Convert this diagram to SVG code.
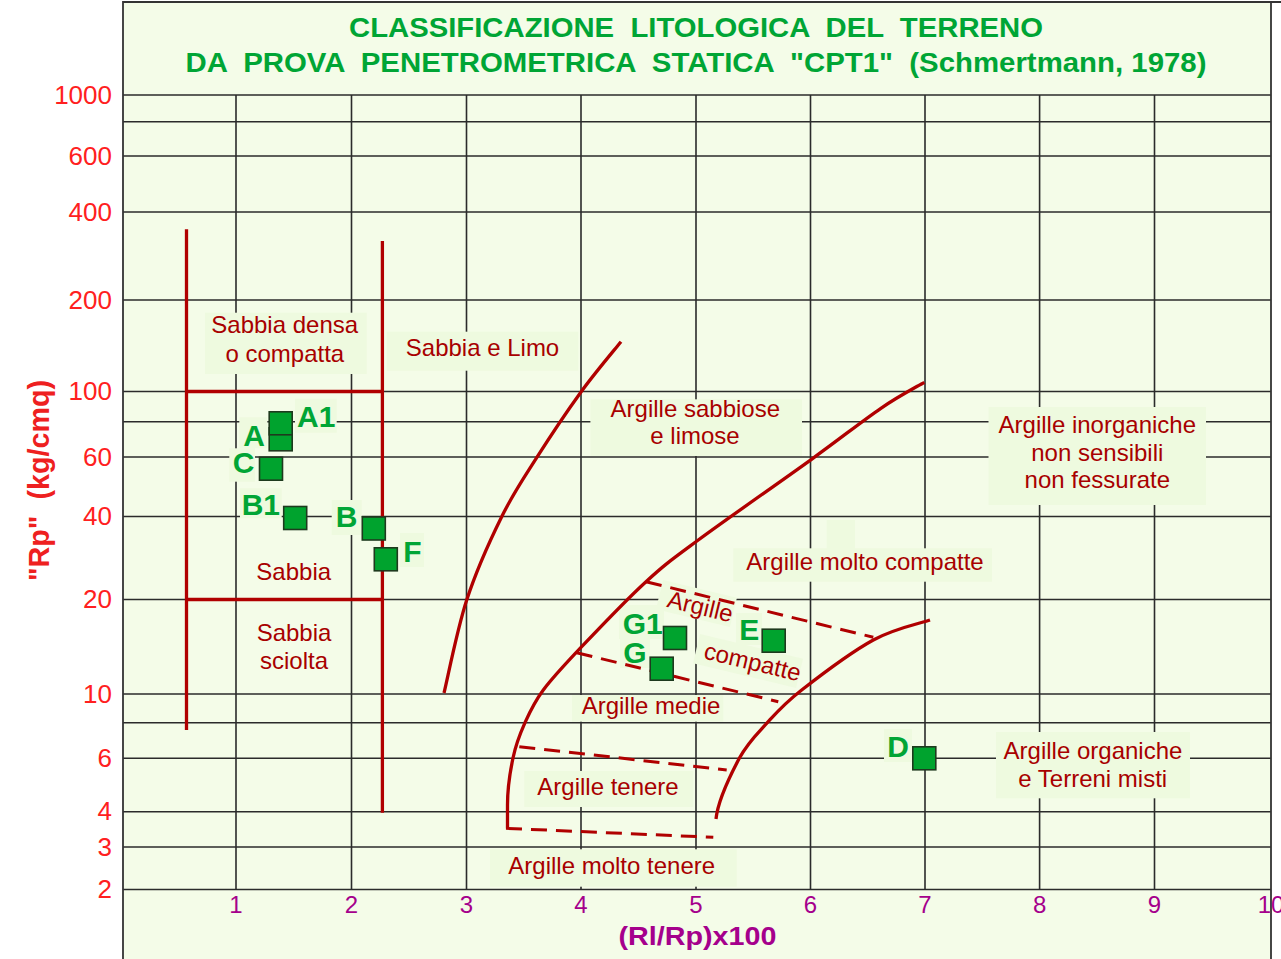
<svg xmlns="http://www.w3.org/2000/svg" width="1281" height="959" viewBox="0 0 1281 959">
<defs>
<style>
.grid{stroke:#2b2b2b;stroke-width:1.6;fill:none}
.frame{stroke:#333;stroke-width:1.8;fill:none}
.box{fill:#eefadf;stroke:none}
.red{stroke:#b00000;stroke-width:3.3;fill:none;stroke-linecap:butt}
.dash{stroke:#b00000;stroke-width:3;fill:none;stroke-dasharray:16 9}
.lbl{font-family:"Liberation Sans",Arial,sans-serif;font-size:24px;fill:#a80000;text-anchor:middle}
.glbl{font-family:"Liberation Sans",Arial,sans-serif;font-size:30px;font-weight:bold;fill:#00a535}
.mk{fill:#00a32e;stroke:#1e3a1e;stroke-width:1.6}
.yl{font-family:"Liberation Sans",Arial,sans-serif;font-size:26px;fill:#ff2020;text-anchor:end}
.xl{font-family:"Liberation Sans",Arial,sans-serif;font-size:24px;fill:#a5008c;text-anchor:middle}
.title{font-family:"Liberation Sans",Arial,sans-serif;font-size:27px;font-weight:bold;fill:#00a535;text-anchor:middle;white-space:pre}
</style>
</defs>
<rect x="0" y="0" width="1281" height="959" fill="#ffffff"/>
<rect x="123" y="2" width="1148" height="957" fill="#f4fce8"/>

<g id="grid">
<path class="grid" d="M123,95H1271 M123,121.7H1271 M123,156H1271 M123,212H1271 M123,300H1271 M123,391.5H1271 M123,421.7H1271 M123,457H1271 M123,516.5H1271 M123,599.5H1271 M123,694H1271 M123,722.7H1271 M123,758.2H1271 M123,811.7H1271 M123,847H1271 M123,889.5H1271"/>
<path class="grid" d="M236,95V889.5 M351.5,95V889.5 M466.5,95V889.5 M581,95V889.5 M696,95V889.5 M810.5,95V889.5 M925,95V889.5 M1039.6,95V889.5 M1154.5,95V889.5"/>
</g>
<g id="frame">
<path class="frame" d="M123,959V2H1281 M1271,2V959"/>
</g>

<g id="title">
<text class="title" x="696" y="37.3" textLength="694" lengthAdjust="spacingAndGlyphs" xml:space="preserve">CLASSIFICAZIONE  LITOLOGICA  DEL  TERRENO</text>
<text class="title" x="696" y="71.7" textLength="1021" lengthAdjust="spacingAndGlyphs" xml:space="preserve">DA  PROVA  PENETROMETRICA  STATICA  "CPT1"  (Schmertmann, 1978)</text>
</g>

<g id="y-axis">
<text class="yl" x="112" y="103.5">1000</text>
<text class="yl" x="112" y="164.5">600</text>
<text class="yl" x="112" y="220.5">400</text>
<text class="yl" x="112" y="308.5">200</text>
<text class="yl" x="112" y="400">100</text>
<text class="yl" x="112" y="465.5">60</text>
<text class="yl" x="112" y="525">40</text>
<text class="yl" x="112" y="608">20</text>
<text class="yl" x="112" y="702.5">10</text>
<text class="yl" x="112" y="766.7">6</text>
<text class="yl" x="112" y="820.2">4</text>
<text class="yl" x="112" y="855.5">3</text>
<text class="yl" x="112" y="898">2</text>
<text x="0" y="0" transform="translate(49,480.5) rotate(-90)" font-family="Liberation Sans, Arial, sans-serif" font-size="29" font-weight="bold" fill="#ee2020" text-anchor="middle" textLength="201" lengthAdjust="spacingAndGlyphs" xml:space="preserve" style="white-space:pre">"Rp"  (kg/cmq)</text>
</g>

<g id="x-axis">
<text class="xl" x="236" y="913">1</text>
<text class="xl" x="351.5" y="913">2</text>
<text class="xl" x="466.5" y="913">3</text>
<text class="xl" x="581" y="913">4</text>
<text class="xl" x="696" y="913">5</text>
<text class="xl" x="810.5" y="913">6</text>
<text class="xl" x="925" y="913">7</text>
<text class="xl" x="1039.6" y="913">8</text>
<text class="xl" x="1154.5" y="913">9</text>
<text class="xl" x="1271" y="913">10</text>
<text x="697.5" y="945" font-family="Liberation Sans, Arial, sans-serif" font-size="26" font-weight="bold" fill="#a5008c" text-anchor="middle" textLength="158" lengthAdjust="spacingAndGlyphs">(Rl/Rp)x100</text>
</g>

<g id="label-boxes">
<rect class="box" x="205" y="312.7" width="161.7" height="61.3"/>
<rect class="box" x="386.7" y="331.7" width="191.6" height="39"/>
<rect class="box" x="590.4" y="399.3" width="211.6" height="56.7"/>
<rect class="box" x="988.5" y="407" width="217.5" height="98"/>
<rect class="box" x="733.3" y="548.3" width="258.7" height="33.4"/>
<rect class="box" x="826.7" y="520" width="28.3" height="30"/>
<rect class="box" x="572" y="695" width="151.3" height="26.7"/>
<rect class="box" x="524.3" y="771" width="169" height="36"/>
<rect class="box" x="490" y="849.3" width="246.7" height="37.4"/>
<rect class="box" x="996" y="732" width="194" height="66.3"/>
<rect class="box" x="0" y="0" width="76" height="30" transform="translate(663,580) rotate(13.5)"/>
<rect class="box" x="0" y="0" width="106" height="30" transform="translate(700,634) rotate(13.5)"/>
<rect class="box" x="295" y="398.7" width="41.7" height="34"/>
<rect class="box" x="239.3" y="417.3" width="28" height="31"/>
<rect class="box" x="229.3" y="448.3" width="25.7" height="33.4"/>
<rect class="box" x="240" y="488.3" width="41.7" height="30"/>
<rect class="box" x="331.7" y="500" width="30" height="35"/>
<rect class="box" x="400" y="533" width="24" height="34"/>
<rect class="box" x="619" y="605" width="45" height="34"/>
<rect class="box" x="620" y="636" width="30" height="32"/>
<rect class="box" x="736" y="613" width="26" height="32"/>
<rect class="box" x="884" y="729" width="28" height="33"/>
</g>

<g id="connectors">
<path class="red" d="M186.5,229.3V730 M382.4,241V812.7 M186.5,391.5H382.4 M186.5,599.5H382.4"/>
<path class="red" d="M444,693 C447.8,677.5 457.1,629.4 466.7,600 C476.3,570.6 490,540.4 501.7,516.7 C513.4,493 523.5,478.5 536.7,457.7 C549.9,436.9 567,411.3 581,392 C595,372.7 614.3,350.1 621,341.7"/>
<path class="red" d="M507.5,828.5 L507.5,805 C507.5,789 510.1,771.7 513,758 C515.9,744.3 519.95,734 525,722.7 C530.05,711.4 533.85,702.7 543.3,690 C552.75,677.3 564.6,664.75 581.7,646.7 C598.8,628.65 626.6,599.5 646,581.7 C665.4,563.9 670.7,560.4 698.3,540 C725.9,519.6 781.1,481.25 811.5,459.3 C841.9,437.35 862.1,421.1 880.9,408.3 C899.7,395.5 917.1,386.6 924.3,382.3"/>
<path class="red" d="M716,819 C718,800 730.75,774.35 739.3,758.3 C747.85,742.25 756.9,734.1 767.3,722.7 C777.7,711.3 784,703.8 801.7,690 C819.4,676.2 851.9,651.7 873.3,640 C894.7,628.3 920.55,623.3 930,620"/>
<path class="dash" d="M646,581.7 L873.3,637.3"/>
<path class="dash" d="M576.7,652.7 L778.3,701.7"/>
<path class="dash" d="M519.3,746.7 L726.7,770"/>
<path class="dash" d="M506,828.3 L713.3,837.3"/>
</g>

<g id="zone-labels">
<text class="lbl" x="284.7" y="333.3">Sabbia densa</text>
<text class="lbl" x="284.8" y="361.7">o compatta</text>
<text class="lbl" x="482.5" y="356">Sabbia e Limo</text>
<text class="lbl" x="695.3" y="417">Argille sabbiose</text>
<text class="lbl" x="695" y="444">e limose</text>
<text class="lbl" x="1097.3" y="433.3">Argille inorganiche</text>
<text class="lbl" x="1097.3" y="461">non sensibili</text>
<text class="lbl" x="1097.3" y="488.3">non fessurate</text>
<text class="lbl" x="865" y="570">Argille molto compatte</text>
<text class="lbl" x="293.7" y="580">Sabbia</text>
<text class="lbl" x="294" y="641">Sabbia</text>
<text class="lbl" x="294" y="669">sciolta</text>
<text class="lbl" x="0" y="0" text-anchor="start" style="text-anchor:start" transform="translate(666,606.7) rotate(13.5)">Argille</text>
<text class="lbl" x="0" y="0" style="text-anchor:start" transform="translate(702.7,658.3) rotate(13.5)">compatte</text>
<text class="lbl" x="651" y="714">Argille medie</text>
<text class="lbl" x="608" y="795">Argille tenere</text>
<text class="lbl" x="611.7" y="874">Argille molto tenere</text>
<text class="lbl" x="1093" y="759">Argille organiche</text>
<text class="lbl" x="1092.7" y="786.7">e Terreni misti</text>
</g>

<g id="point-A"><rect class="mk" x="269.2" y="427.8" width="23" height="23"/><text class="glbl" x="243.3" y="446">A</text></g>
<g id="point-A1"><rect class="mk" x="269.2" y="411.8" width="23" height="23"/><text class="glbl" x="297" y="426.7">A1</text></g>
<g id="point-C"><rect class="mk" x="259.5" y="457.2" width="23" height="23"/><text class="glbl" x="232.7" y="473.3">C</text></g>
<g id="point-B1"><rect class="mk" x="283.7" y="506.5" width="23" height="23"/><text class="glbl" x="241.7" y="515">B1</text></g>
<g id="point-B"><rect class="mk" x="362.3" y="517" width="23" height="23"/><text class="glbl" x="335.7" y="527.3">B</text></g>
<g id="point-F"><rect class="mk" x="374.3" y="547.8" width="23" height="23"/><text class="glbl" x="403.3" y="561.7">F</text></g>
<g id="point-G1"><rect class="mk" x="663.5" y="626.5" width="23" height="23"/><text class="glbl" x="622.7" y="634">G1</text></g>
<g id="point-G"><rect class="mk" x="650.2" y="657.2" width="23" height="23"/><text class="glbl" x="623.3" y="663.3">G</text></g>
<g id="point-E"><rect class="mk" x="762.2" y="629.2" width="23" height="23"/><text class="glbl" x="739.3" y="640">E</text></g>
<g id="point-D"><rect class="mk" x="912.8" y="746.8" width="23" height="23"/><text class="glbl" x="887.3" y="756.7">D</text></g>
</svg>
